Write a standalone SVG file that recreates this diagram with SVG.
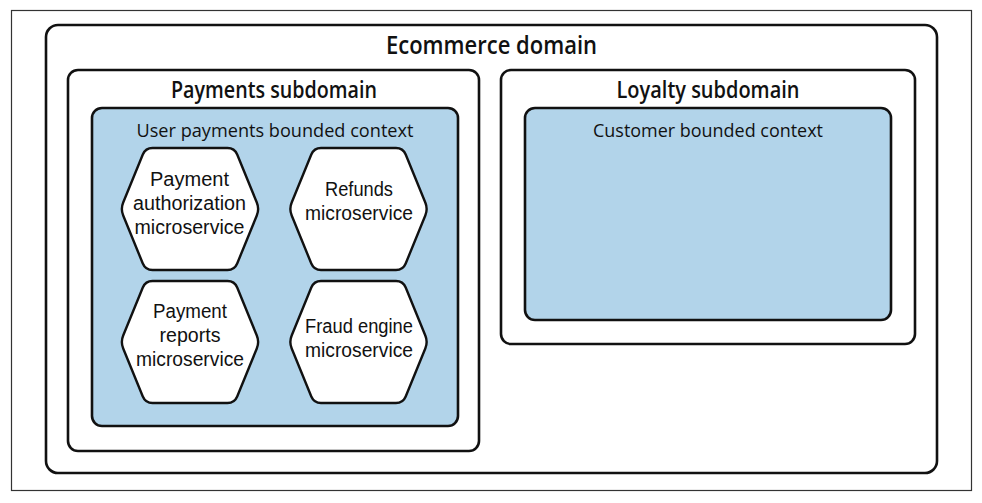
<svg xmlns="http://www.w3.org/2000/svg" width="982" height="503" viewBox="0 0 982 503">
<style>
.box{fill:#fff;stroke:#111;stroke-width:2.6}
.ctx{fill:#b2d4ea;stroke:#111;stroke-width:2.6}
.hex{fill:#fff;stroke:#111;stroke-width:2.4}
.t{font-family:"Open Sans","Liberation Sans",sans-serif;fill:#111;text-anchor:middle}
.h1{font-size:25px;font-weight:600}
.h2{font-size:23px;font-weight:600}
.h3{font-size:19px}
.hx{font-family:"Liberation Sans",Arial,sans-serif;font-size:20px}
</style>
<defs>
<path id="hexshape" d="M-37.5,-61 L37.5,-61 Q44.5,-61 47.2,-54.5 L66.8,-6.5 Q69.5,0 66.8,6.5 L47.2,54.5 Q44.5,61 37.5,61 L-37.5,61 Q-44.5,61 -47.2,54.5 L-66.8,6.5 Q-69.5,0 -66.8,-6.5 L-47.2,-54.5 Q-44.5,-61 -37.5,-61 Z"/>
</defs>
<rect x="0" y="0" width="982" height="503" fill="#fff"/>
<rect x="11.5" y="10.5" width="960" height="480" fill="none" stroke="#333" stroke-width="1.2"/>
<g id="ecommerce-domain">
<rect class="box" x="46" y="25" width="891" height="448" rx="12"/>
<text class="t h1" x="491.5" y="54" textLength="211" lengthAdjust="spacingAndGlyphs">Ecommerce domain</text>
</g>
<g id="payments-subdomain">
<rect class="box" x="68" y="70" width="411" height="381" rx="10"/>
<text class="t h2" x="274" y="98" textLength="206" lengthAdjust="spacingAndGlyphs">Payments subdomain</text>
</g>
<g id="user-payments-context">
<rect class="ctx" x="92" y="108" width="366" height="318" rx="10"/>
<text class="t h3" x="275" y="137" textLength="277" lengthAdjust="spacingAndGlyphs">User payments bounded context</text>
</g>
<g id="loyalty-subdomain">
<rect class="box" x="501" y="70" width="414" height="274" rx="10"/>
<text class="t h2" x="708" y="98" textLength="183" lengthAdjust="spacingAndGlyphs">Loyalty subdomain</text>
</g>
<g id="customer-context">
<rect class="ctx" x="525" y="108" width="366" height="212" rx="10"/>
<text class="t h3" x="708" y="137" textLength="230" lengthAdjust="spacingAndGlyphs">Customer bounded context</text>
</g>
<g id="payment-authorization">
<use href="#hexshape" class="hex" x="190" y="209"/>
<text class="t hx" x="189.5" y="186" textLength="79" lengthAdjust="spacingAndGlyphs">Payment</text>
<text class="t hx" x="189.5" y="210" textLength="113" lengthAdjust="spacingAndGlyphs">authorization</text>
<text class="t hx" x="189.5" y="234" textLength="110" lengthAdjust="spacingAndGlyphs">microservice</text>
</g>
<g id="refunds">
<use href="#hexshape" class="hex" x="358.5" y="209"/>
<text class="t hx" x="359" y="196" textLength="68" lengthAdjust="spacingAndGlyphs">Refunds</text>
<text class="t hx" x="359" y="220" textLength="108" lengthAdjust="spacingAndGlyphs">microservice</text>
</g>
<g id="payment-reports">
<use href="#hexshape" class="hex" x="190" y="342"/>
<text class="t hx" x="190" y="318" textLength="74" lengthAdjust="spacingAndGlyphs">Payment</text>
<text class="t hx" x="190" y="342" textLength="61" lengthAdjust="spacingAndGlyphs">reports</text>
<text class="t hx" x="190" y="366" textLength="108" lengthAdjust="spacingAndGlyphs">microservice</text>
</g>
<g id="fraud-engine">
<use href="#hexshape" class="hex" x="358.5" y="342"/>
<text class="t hx" x="359" y="333" textLength="108" lengthAdjust="spacingAndGlyphs">Fraud engine</text>
<text class="t hx" x="359" y="357" textLength="108" lengthAdjust="spacingAndGlyphs">microservice</text>
</g>
<g id="connectors"></g>
</svg>
